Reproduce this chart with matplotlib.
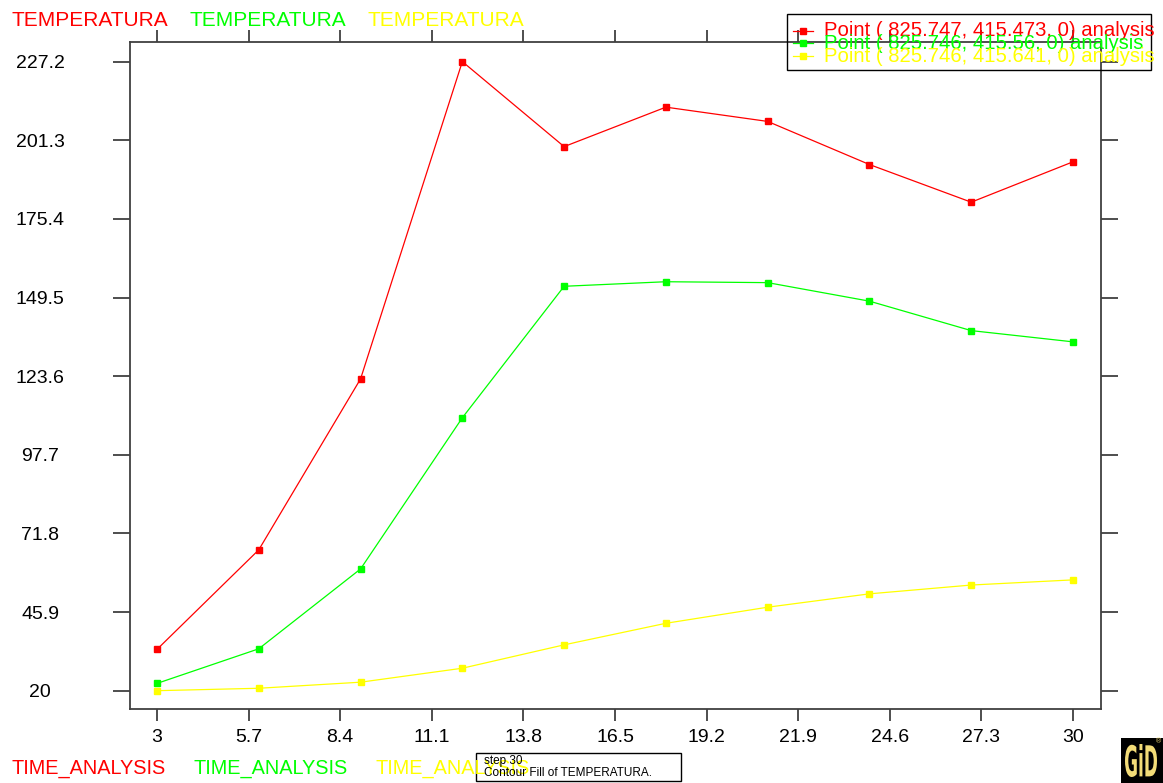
import matplotlib
matplotlib.use("Agg")
import matplotlib.pyplot as plt
from matplotlib.patches import Rectangle, PathPatch
from matplotlib.lines import Line2D
from matplotlib.textpath import TextPath
from matplotlib.font_manager import FontProperties
from matplotlib.transforms import Affine2D

plt.rcParams['font.family'] = ['Liberation Sans', 'DejaVu Sans']

# --- data -----------------------------------------------------------------
time_analysis = [3, 6, 9, 12, 15, 18, 21, 24, 27, 30]
temp_red = [33.6, 66.4, 122.7, 227.2, 199.2, 212.2, 207.5, 193.3, 180.9, 194.2]
temp_green = [22.4, 33.8, 60.1, 109.9, 153.2, 154.7, 154.4, 148.3, 138.6, 134.9]
temp_yellow = [20.0, 20.8, 22.8, 27.4, 35.1, 42.2, 47.5, 51.9, 54.8, 56.5]

series_labels = [
    "Point ( 825.747, 415.473, 0) analysis",
    "Point ( 825.746, 415.56, 0) analysis",
    "Point ( 825.746, 415.641, 0) analysis",
]
series_colors = ["#ff0000", "#00ff00", "#ffff00"]

x_ticks = [3, 5.7, 8.4, 11.1, 13.8, 16.5, 19.2, 21.9, 24.6, 27.3, 30]
y_ticks = [20, 45.9, 71.8, 97.7, 123.6, 149.5, 175.4, 201.3, 227.2]

# --- figure ---------------------------------------------------------------
W, H = 1163, 783
DPI = 100
fig = plt.figure(figsize=(W / DPI, H / DPI), dpi=DPI, facecolor="white")


def px(x, y):
    """pixel position (from top-left) -> figure fraction"""
    return x / W, 1 - y / H


PT = 72 / DPI  # points per pixel

ax_l, ax_r, ax_t, ax_b = 130, 1101, 42, 709
ax = fig.add_axes([ax_l / W, 1 - ax_b / H, (ax_r - ax_l) / W, (ax_b - ax_t) / H])
ax.set_facecolor("white")

for vals, col in zip([temp_red, temp_green, temp_yellow], series_colors):
    ax.plot(time_analysis, vals, color=col, lw=0.9, marker="s", ms=3.8,
            mec=col, mfc=col, solid_joinstyle="miter")

ax.set_xlim(2.204, 30.825)
ax.set_ylim(13.97, 233.66)

ax.set_xticks(x_ticks)
ax.set_xticklabels([f"{v:g}" for v in x_ticks])
ax.set_yticks(y_ticks)
ax.set_yticklabels([f"{v:g}" for v in y_ticks])

edge = "#404040"
for s in ax.spines.values():
    s.set_color(edge)
    s.set_linewidth(1.3)

ax.tick_params(axis="x", direction="out", length=12 * PT, width=1.3, color=edge,
               top=True, bottom=True, labeltop=False, labelbottom=True,
               labelsize=14, pad=8 * PT, labelcolor="black")
ax.tick_params(axis="y", direction="out", length=17 * PT, width=1.3, color=edge,
               left=True, right=True, labelleft=True, labelright=False,
               labelsize=14, pad=73 * PT, labelcolor="black")
for lab in ax.get_yticklabels():
    lab.set_horizontalalignment("center")

# --- header and footer labels ---------------------------------------------
for xpos, col in zip([12, 190, 367], series_colors):
    fig.text(*px(xpos, 20), "TEMPERATURA", color=col, fontsize=15,
             ha="left", va="center")
for xpos, col in zip([12, 193, 375], series_colors):
    fig.text(*px(xpos, 768), "TIME_ANALYSIS", color=col, fontsize=14.3,
             ha="left", va="center")

# --- legend ---------------------------------------------------------------
fig.patches.append(Rectangle(px(787, 70), (1151 - 787) / W, (70 - 14) / H,
                             transform=fig.transFigure, fill=False,
                             edgecolor="black", lw=1.0))
for i, (lab, col) in enumerate(zip(series_labels, series_colors)):
    yy = 30.5 + 12.8 * i
    x0, y0 = px(793, yy)
    x1, _ = px(813, yy)
    xm, _ = px(803, yy)
    fig.lines.append(Line2D([x0, x1], [y0, y0], transform=fig.transFigure,
                            color=col, lw=0.9))
    fig.lines.append(Line2D([xm], [y0], transform=fig.transFigure, color=col,
                            marker="s", ms=3.8, lw=0))
    fig.text(*px(824, yy), lab, color=col, fontsize=14.6, ha="left", va="center")

# --- status box -----------------------------------------------------------
fig.patches.append(Rectangle(px(476, 781), (681 - 476) / W, (781 - 753) / H,
                             transform=fig.transFigure, fill=False,
                             edgecolor="black", lw=1.0))
fig.text(*px(484, 761), "step 30", fontsize=8.5, ha="left", va="center",
         color="black")
fig.text(*px(484, 773), "Contour Fill of TEMPERATURA.", fontsize=8.5,
         ha="left", va="center", color="black")

# --- logo -----------------------------------------------------------------
fig.patches.append(Rectangle(px(1121, 783), (1163 - 1121) / W, (783 - 738) / H,
                             transform=fig.transFigure, facecolor="black",
                             edgecolor="none"))
logo_path = TextPath((0, 0), "GiD", size=1,
                     prop=FontProperties(family="DejaVu Sans", weight="bold"))
bb = logo_path.get_extents()
lx0, ly_top, lw_px, lh_px = 1125, 744, 32, 33
logo_tr = (Affine2D().translate(-bb.x0, -bb.y0)
           .scale(lw_px / bb.width, lh_px / bb.height)
           .translate(lx0, H - (ly_top + lh_px)))
fig.patches.append(PathPatch(logo_path, transform=logo_tr,
                             facecolor="#f3dc78", edgecolor="none"))
fig.text(*px(1159, 742), "®", color="#f3dc78", fontsize=5, ha="center",
         va="center")

fig.savefig("out.png", dpi=DPI, facecolor="white")
